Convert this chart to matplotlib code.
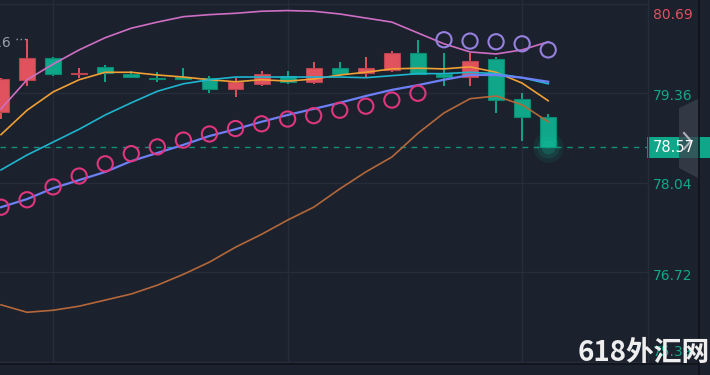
import matplotlib
matplotlib.use('Agg')
import matplotlib.pyplot as plt
from matplotlib.patches import Polygon, Rectangle
from matplotlib.lines import Line2D

# ---------------- data ----------------
opens  = [79.08, 79.55, 79.88, 79.64, 79.75, 79.64, 79.58, 79.60, 79.58, 79.42, 79.49,
          79.62, 79.53, 79.73, 79.66, 79.70, 79.95, 79.64, 79.60, 79.86, 79.27, 79.01]
highs  = [79.58, 80.16, 79.90, 79.73, 79.77, 79.69, 79.67, 79.73, 79.62, 79.58, 79.69,
          79.69, 79.82, 79.82, 79.89, 79.99, 80.15, 79.95, 79.96, 79.89, 79.36, 79.05]
lows   = [78.98, 79.47, 79.62, 79.58, 79.52, 79.59, 79.52, 79.56, 79.36, 79.31, 79.47,
          79.50, 79.50, 79.62, 79.60, 79.68, 79.64, 79.47, 79.47, 79.07, 78.66, 78.57]
closes = [79.57, 79.88, 79.64, 79.66, 79.66, 79.60, 79.57, 79.57, 79.43, 79.52, 79.64,
          79.53, 79.74, 79.64, 79.73, 79.95, 79.64, 79.60, 79.84, 79.26, 79.01, 78.57]

boll_upper = [79.13, 79.56, 79.79, 80.00, 80.18, 80.32, 80.41, 80.49, 80.52, 80.54, 80.57,
              80.58, 80.57, 80.53, 80.47, 80.41, 80.25, 80.09, 79.97, 79.94, 80.00, 80.12]
boll_lower = [76.24, 76.13, 76.16, 76.22, 76.31, 76.40, 76.53, 76.69, 76.87, 77.09, 77.28,
              77.49, 77.68, 77.95, 78.20, 78.42, 78.77, 79.07, 79.28, 79.32, 79.19, 78.94]
ma_orange  = [78.75, 79.11, 79.38, 79.56, 79.67, 79.67, 79.63, 79.60, 79.56, 79.53, 79.56,
              79.54, 79.57, 79.63, 79.67, 79.72, 79.73, 79.72, 79.75, 79.67, 79.51, 79.25]
ma_cyan    = [78.23, 78.45, 78.64, 78.83, 79.04, 79.22, 79.39, 79.50, 79.56, 79.60, 79.60,
              79.60, 79.60, 79.60, 79.59, 79.62, 79.65, 79.65, 79.67, 79.65, 79.59, 79.50]
ma_blue    = [77.68, 77.80, 77.96, 78.08, 78.20, 78.36, 78.48, 78.60, 78.73, 78.83, 78.94,
              79.04, 79.13, 79.22, 79.32, 79.41, 79.48, 79.56, 79.63, 79.63, 79.59, 79.53]
sar_below  = [77.68, 77.79, 77.98, 78.14, 78.32, 78.47, 78.57, 78.67, 78.76, 78.84, 78.91,
              78.98, 79.03, 79.11, 79.17, 79.26, 79.36]
sar_above  = [80.15, 80.13, 80.12, 80.09, 80.00]

axis_labels = ["80.69", "79.36", "78.04", "76.72", "75.39"]
grid_prices = [80.68, 79.36, 78.04, 76.72, 75.40]
last_price = 78.57
high_label = "80.16"
watermark = "618外汇网"

# ---------------- style ----------------
BG = '#1b212d'
GRID = '#262d3a'
RED = '#e0525e'
RED_E = '#b9434f'
GREEN = '#0fa68a'
GREEN_E = '#0b8a72'
W, H = 710, 375

def fx(px):
    return px / W

def fy(py):
    return 1 - py / H

fig = plt.figure(figsize=(7.1, 3.75), dpi=100, facecolor=BG)
ax = fig.add_axes([0, fy(363), fx(648), 363 / H])
ax.set_facecolor(BG)
ax.set_xlim(-0.038, 24.83)
ax.set_ylim(75.382, 80.736)
for s in ax.spines.values():
    s.set_visible(False)
ax.set_xticks([])
ax.set_yticks([])

for gp in grid_prices:
    ax.axhline(gp, color=GRID, lw=1, zorder=0)
for gx in [2, 11, 20]:
    ax.axvline(gx, color=GRID, lw=1, zorder=0)

n = len(opens)
xs = list(range(n))

# candles
bw = 0.61
for i in xs:
    o, h, l, c = opens[i], highs[i], lows[i], closes[i]
    up = c >= o
    col = RED if up else GREEN
    ecol = RED_E if up else GREEN_E
    ax.vlines(i, l, h, color=col, lw=1.4, zorder=2)
    bot = min(o, c)
    ht = max(abs(c - o), 0.022)
    ax.add_patch(Rectangle((i - bw / 2, bot), bw, ht, facecolor=col, edgecolor=ecol,
                           lw=0.8, zorder=3))

# glow at last candle
for r, a in [(22, 0.08), (16, 0.12), (10, 0.18)]:
    ax.scatter([n - 1], [last_price], s=r ** 2, color='#10c9a0', alpha=a, lw=0, zorder=4)

# lines
ax.plot(xs, boll_upper, color='#cf6fc3', lw=1.2, zorder=5)
ax.plot(xs, boll_lower, color='#b4683a', lw=1.2, zorder=5)
ax.plot(xs, ma_orange, color='#f0a035', lw=1.2, zorder=5)
ax.plot(xs, ma_cyan, color='#1fb5cf', lw=1.2, zorder=5)
ax.plot(xs, ma_blue, color='#6d7ff5', lw=1.6, zorder=5)

# SAR
ax.scatter(xs[:len(sar_below)], sar_below, s=120, facecolors='none',
           edgecolors='#e0357f', linewidths=1.5, zorder=6)
ax.scatter(xs[n - len(sar_above):], sar_above, s=120, facecolors='none',
           edgecolors='#9680e0', linewidths=1.5, zorder=6)

# last price dashed line
ax.axhline(last_price, color='#12907a', lw=1, ls=(0, (4, 4)), zorder=1)

# high marker
ax.plot([0.58, 1.0], [highs[1], highs[1]], color='#9aa0aa', lw=1, ls=(0, (1, 2)), zorder=6)
ax.text(0.38, highs[1] - 0.06, high_label, color='#9aa0aa', fontsize=10,
        ha='right', va='center', zorder=6)

# right axis separator and bottom line
fig.add_artist(Line2D([fx(648), fx(648)], [fy(0), fy(363)], color=GRID, lw=1))
fig.add_artist(Line2D([0, fx(698)], [fy(363.5), fy(363.5)], color='#0f131b', lw=1.2))
fig.add_artist(Line2D([fx(698.5), fx(698.5)], [0, 1], color='#0f131b', lw=1.2))

# axis labels
label_y = [15, 96, 185, 276, 352]
for lab, py in zip(axis_labels, label_y):
    colr = RED if lab == axis_labels[0] else '#17a58a'
    fig.text(fx(653), fy(py), lab, color=colr, fontsize=10, ha='left', va='center')

# last price box
fig.add_artist(Rectangle((fx(647), fy(158)), fx(63), 21 / H, transform=fig.transFigure,
                         facecolor=GREEN, edgecolor='none'))
fig.text(fx(653), fy(147.5), f"{last_price:.2f}", color='white', fontsize=10.5,
         ha='left', va='center')

# grey scroll panel with chevron
fig.add_artist(Polygon([(fx(679), fy(108)), (fx(698), fy(99)), (fx(698), fy(178)),
                        (fx(679), fy(168))], closed=True, transform=fig.transFigure,
                       facecolor='#3b404c', edgecolor='none', alpha=0.75))
fig.add_artist(Line2D([fx(684), fx(691), fx(684)], [fy(133), fy(141), fy(149)],
                      color='#aeb2ba', lw=1.5))

# watermark
fig.text(fx(578), fy(353), watermark, color='#eeeeee', fontsize=20, fontweight='bold',
         ha='left', va='center', family=['Noto Sans CJK SC', 'DejaVu Sans'])

fig.savefig('out.png', dpi=100, facecolor=BG)
